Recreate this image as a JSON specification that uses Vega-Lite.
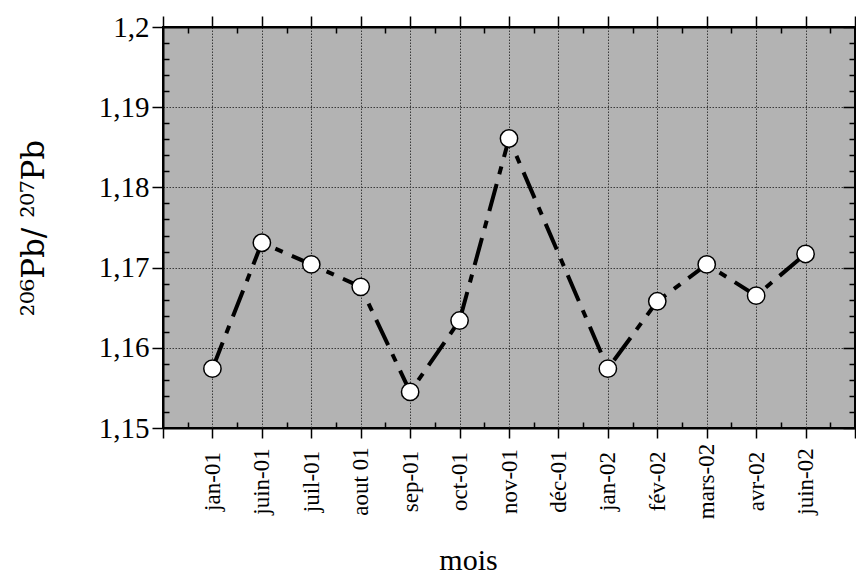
{
  "$schema": "https://vega.github.io/schema/vega-lite/v6.json",
  "autosize": "none",
  "width": 692,
  "height": 401,
  "padding": {"left": 163, "top": 27, "right": 1, "bottom": 147},
  "background": "white",
  "config": {
    "view": {"fill": "#b3b3b3", "stroke": "black", "strokeWidth": 2},
    "axis": {
      "labelFont": "Liberation Serif",
      "titleFont": "Liberation Serif",
      "labelColor": "black",
      "titleColor": "black",
      "tickColor": "black",
      "domainColor": "black",
      "domainWidth": 2,
      "tickWidth": 1.5,
      "gridColor": "#3a3a3a",
      "gridDash": [1.5, 1.5],
      "gridWidth": 1,
      "titleFontWeight": "normal"
    }
  },
  "data": {
    "values": [
      {"idx": 1, "mois": "jan-01", "ratio": 1.1574},
      {"idx": 2, "mois": "juin-01", "ratio": 1.1731},
      {"idx": 3, "mois": "juil-01", "ratio": 1.1704},
      {"idx": 4, "mois": "aout 01", "ratio": 1.1676},
      {"idx": 5, "mois": "sep-01", "ratio": 1.1545},
      {"idx": 6, "mois": "oct-01", "ratio": 1.1634},
      {"idx": 7, "mois": "nov-01", "ratio": 1.1861},
      {"idx": 9, "mois": "jan-02", "ratio": 1.1574},
      {"idx": 10, "mois": "fév-02", "ratio": 1.1658},
      {"idx": 11, "mois": "mars-02", "ratio": 1.1704},
      {"idx": 12, "mois": "avr-02", "ratio": 1.1665},
      {"idx": 13, "mois": "juin-02", "ratio": 1.1717}
    ]
  },
  "resolve": {"axis": {"x": "independent", "y": "independent"}},
  "layer": [
    {
      "mark": {"type": "line", "color": "black", "strokeWidth": 4, "strokeDash": [28, 10, 8, 10]},
      "encoding": {
        "x": {
          "field": "idx", "type": "quantitative",
          "scale": {"domain": [0, 14], "nice": false, "zero": false},
          "axis": {
            "orient": "bottom",
            "values": [0,1,2,3,4,5,6,7,8,9,10,11,12,13,14],
            "tickSize": 10,
            "labelAngle": -90,
            "labelAlign": "center",
            "labelBaseline": "middle",
            "labelFontSize": 23,
            "labelPadding": 43,
            "labelExpr": "['', 'jan-01','juin-01','juil-01','aout 01','sep-01','oct-01','nov-01','déc-01','jan-02','fév-02','mars-02','avr-02','juin-02',''][datum.value]",
            "grid": true,
            "title": "mois",
            "titleFontSize": 30,
            "titleX": 305,
            "titleY": 141,
            "titleBaseline": "alphabetic",
            "titleAlign": "center"
          }
        },
        "y": {
          "field": "ratio", "type": "quantitative",
          "scale": {"domain": [1.15, 1.2], "nice": false, "zero": false},
          "axis": {
            "orient": "left",
            "values": [1.15, 1.16, 1.17, 1.18, 1.19, 1.2],
            "tickSize": 11,
            "labelFontSize": 29,
            "labelPadding": 3,
            "labelExpr": "replace(format(datum.value, '.2~f'), '.', ',')",
            "grid": true,
            "title": "²⁰⁶Pb/ ²⁰⁷Pb",
            "titleFont": "DejaVu Serif",
            "titleFontSize": 31,
            "titlePadding": 48
          }
        }
      }
    },
    {
      "mark": {"type": "point", "filled": true, "fill": "white", "stroke": "black", "strokeWidth": 1.5, "size": 300, "opacity": 1},
      "encoding": {
        "x": {
          "field": "idx", "type": "quantitative",
          "axis": {"orient": "top", "values": [0,1,2,3,4,5,6,7,8,9,10,11,12,13,14], "tickSize": 11, "labels": false, "grid": false, "title": null}
        },
        "y": {
          "field": "ratio", "type": "quantitative",
          "axis": {"orient": "right", "values": [1.15, 1.16, 1.17, 1.18, 1.19, 1.2], "tickSize": -12, "labels": false, "grid": false, "title": null}
        }
      }
    },
    {
      "mark": {"type": "point", "opacity": 0},
      "encoding": {
        "x": {
          "field": "idx", "type": "quantitative",
          "axis": {"orient": "bottom", "values": [0.5,1.5,2.5,3.5,4.5,5.5,6.5,7.5,8.5,9.5,10.5,11.5,12.5,13.5], "tickSize": -6, "labels": false, "grid": false, "domain": false, "title": null}
        },
        "y": {
          "field": "ratio", "type": "quantitative",
          "axis": {"orient": "left", "values": [1.152,1.154,1.156,1.158,1.162,1.164,1.166,1.168,1.172,1.174,1.176,1.178,1.182,1.184,1.186,1.188,1.192,1.194,1.196,1.198], "tickSize": -6, "labels": false, "grid": false, "domain": false, "title": null}
        }
      }
    },
    {
      "mark": {"type": "point", "opacity": 0},
      "encoding": {
        "x": {
          "field": "idx", "type": "quantitative",
          "axis": {"orient": "top", "values": [0.5,1.5,2.5,3.5,4.5,5.5,6.5,7.5,8.5,9.5,10.5,11.5,12.5,13.5], "tickSize": -6, "labels": false, "grid": false, "domain": false, "title": null}
        },
        "y": {
          "field": "ratio", "type": "quantitative",
          "axis": {"orient": "right", "values": [1.152,1.154,1.156,1.158,1.162,1.164,1.166,1.168,1.172,1.174,1.176,1.178,1.182,1.184,1.186,1.188,1.192,1.194,1.196,1.198], "tickSize": -6, "labels": false, "grid": false, "domain": false, "title": null}
        }
      }
    }
  ]
}
